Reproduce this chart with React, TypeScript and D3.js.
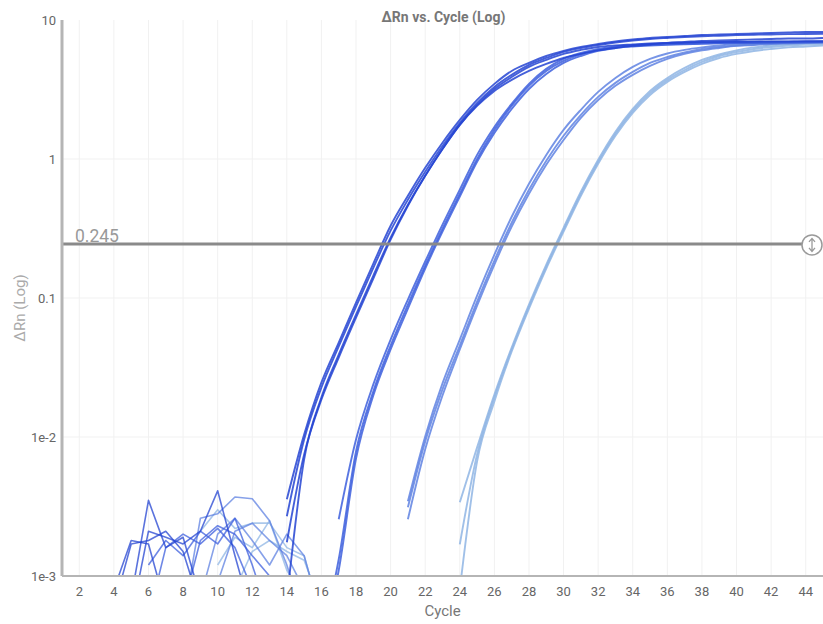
import React from 'react';
import * as d3 from 'd3';

const N = null;

const cycles = [1, 2, 3, 4, 5, 6, 7, 8, 9, 10, 11, 12, 13, 14, 15, 16, 17, 18, 19, 20, 21, 22, 23, 24, 25, 26, 27, 28, 29, 30, 31, 32, 33, 34, 35, 36, 37, 38, 39, 40, 41, 42, 43, 44, 45];
const xTicks = [2, 4, 6, 8, 10, 12, 14, 16, 18, 20, 22, 24, 26, 28, 30, 32, 34, 36, 38, 40, 42, 44];
const yTicks = [10, 1, 0.1, 0.01, 0.001];
const yTickLabels = ['10', '1', '0.1', '1e-2', '1e-3'];
const threshold = 0.245;
const thresholdLabel = '0.245';
const chartTitle = 'ΔRn vs. Cycle (Log)';
const xTitle = 'Cycle';
const yTitle = 'ΔRn (Log)';

// ΔRn per cycle (cycle 1..45), null = non-positive value
const wellA1 = [N, N, N, 0.0006, 0.0017, 0.0018, 0.0021, 0.0015, 0.0006, N, N, N, N,
  0.00356, 0.0104, 0.0247, 0.0478, 0.0927, 0.177, 0.331, 0.544, 0.865, 1.31, 1.91, 2.66, 3.47, 4.30, 4.91, 5.51, 5.99, 6.40, 6.72, 7.01, 7.24, 7.43, 7.55, 7.67, 7.80, 7.87, 7.93, 8.00, 8.07, 8.13, 8.20, 8.20];
const wellA2 = [N, N, N, N, 0.0007, 0.0035, 0.0016, 0.0019, 0.0007, N, N, N, N,
  0.00269, 0.0096, 0.0227, 0.0448, 0.0868, 0.165, 0.305, 0.509, 0.809, 1.24, 1.82, 2.53, 3.30, 4.03, 4.75, 5.33, 5.89, 6.29, 6.61, 6.89, 7.12, 7.30, 7.43, 7.55, 7.64, 7.71, 7.78, 7.83, 7.87, 7.91, 7.93, 7.96];
const wellA3 = [N, N, N, 0.0008, 0.0018, 0.0017, 0.0006, N, N, N, N, N, N,
  0.00175, 0.0075, 0.0186, 0.0373, 0.0723, 0.138, 0.263, 0.461, 0.757, 1.18, 1.76, 2.45, 3.19, 3.89, 4.60, 5.16, 5.70, 6.09, 6.40, 6.56, 6.67, 6.78, 6.84, 6.89, 6.93, 6.95, 6.97, 6.99, 7.01, 7.01, 7.03, 7.03];
const wellA4 = [N, N, N, N, 0.0005, 0.0021, 0.0019, 0.0017, 0.0021, 0.0041, 0.0014, 0.0005, N,
  0.00068, 0.0069, 0.0193, 0.0392, 0.0760, 0.145, 0.272, 0.469, 0.757, 1.18, 1.76, 2.41, 3.09, 3.71, 4.30, 4.83, 5.33, 5.70, 6.04, 6.29, 6.51, 6.67, 6.84, 6.95, 7.07, 7.12, 7.18, 7.24, 7.30, 7.36, 7.36, 7.43];

const wellB1 = [N, N, N, N, N, 0.0012, 0.0018, 0.0014, 0.0021, 0.0017, 0.0026, 0.0012, 0.0005, N, N, N,
  0.00256, 0.0096, 0.0239, 0.0502, 0.0974, 0.183, 0.337, 0.601, 1.07, 1.70, 2.49, 3.47, 4.45, 5.25, 5.79, 6.19, 6.45, 6.61, 6.72, 6.78, 6.84, 6.89, 6.93, 6.95, 6.95, 6.97, 6.99, 7.01, 7.01];
const wellB2 = [N, N, N, N, N, 0.0005, 0.0016, 0.0020, 0.0017, 0.0022, 0.0016, 0.0008, N, N, N,
  0.00035, 0.00132, 0.00788, 0.0213, 0.0455, 0.0897, 0.171, 0.315, 0.562, 1.00, 1.62, 2.41, 3.36, 4.30, 5.08, 5.65, 6.09, 6.35, 6.51, 6.61, 6.69, 6.75, 6.79, 6.83, 6.86, 6.88, 6.90, 6.93, 6.95, 6.95];
const wellB3 = [N, N, N, N, N, N, N, 0.0006, 0.0018, 0.0023, 0.0020, 0.0014, 0.0010, 0.0006, N,
  0.0003, 0.00110, 0.0070, 0.0199, 0.0426, 0.0839, 0.163, 0.300, 0.537, 0.955, 1.54, 2.29, 3.19, 4.09, 4.91, 5.51, 5.99, 6.29, 6.45, 6.56, 6.64, 6.70, 6.75, 6.79, 6.82, 6.84, 6.86, 6.88, 6.90, 6.90];

const wellC1 = [N, N, N, N, N, N, N, 0.0005, 0.0026, 0.0028, 0.0037, 0.0036, 0.0025, 0.0012, 0.0005, N, N, N, N, N,
  0.00345, 0.0101, 0.0243, 0.0502, 0.104, 0.205, 0.384, 0.664, 1.07, 1.62, 2.26, 3.04, 3.83, 4.60, 5.25, 5.74, 6.09, 6.35, 6.56, 6.69, 6.78, 6.84, 6.89, 6.95, 6.99];
const wellC2 = [N, N, N, N, N, N, N, N, 0.0007, 0.0020, 0.0026, 0.0018, 0.0012, 0.0020, 0.0014, 0.0005, N, N, N, N,
  0.00312, 0.0093, 0.0220, 0.0455, 0.0942, 0.186, 0.348, 0.601, 0.971, 1.47, 2.08, 2.80, 3.53, 4.23, 4.91, 5.42, 5.84, 6.19, 6.40, 6.56, 6.67, 6.78, 6.84, 6.89, 6.95];
const wellC3 = [N, N, N, N, N, N, N, N, N, 0.0009, 0.0021, 0.0024, 0.0018, 0.0014, 0.0008, N, N, N, N, N,
  0.00256, 0.00815, 0.0199, 0.0426, 0.0882, 0.174, 0.326, 0.562, 0.908, 1.37, 1.98, 2.66, 3.36, 4.03, 4.67, 5.25, 5.70, 6.04, 6.29, 6.51, 6.61, 6.72, 6.78, 6.84, 6.89];

const wellD1 = [N, N, N, N, N, N, N, N, 0.0021, 0.0030, 0.0022, 0.0024, 0.0024, 0.0016, 0.0014, 0.0005, N, N, N, N, N, N, N,
  0.00339, 0.00842, 0.0202, 0.0440, 0.0897, 0.174, 0.320, 0.581, 0.987, 1.57, 2.29, 3.09, 3.83, 4.52, 5.16, 5.65, 6.04, 6.35, 6.56, 6.72, 6.84, 6.89];
const wellD2 = [N, N, N, N, N, N, N, N, N, 0.0012, 0.0019, 0.0016, 0.0025, 0.0011, 0.0007, N, N, N, N, N, N, N, N,
  0.00169, 0.0075, 0.0193, 0.0426, 0.0868, 0.168, 0.310, 0.562, 0.955, 1.52, 2.22, 2.99, 3.71, 4.37, 4.99, 5.51, 5.89, 6.19, 6.40, 6.56, 6.67, 6.72];
const wellD3 = [N, N, N, N, N, N, N, N, N, N, 0.0008, 0.0015, 0.0018, 0.0015, 0.0013, 0.0006, N, N, N, N, N, N, N,
  0.00080, 0.00668, 0.0180, 0.0412, 0.0839, 0.163, 0.300, 0.544, 0.924, 1.47, 2.15, 2.89, 3.59, 4.23, 4.83, 5.33, 5.70, 5.99, 6.19, 6.35, 6.45, 6.56];

const groupD = [wellD1, wellD2, wellD3];
const groupC = [wellC1, wellC2, wellC3];
const groupB = [wellB1, wellB2, wellB3];
const groupA = [wellA1, wellA2, wellA3, wellA4];
const groups = [groupD, groupC, groupB, groupA];
const groupColors = ['#8fb5e4', '#5f82e2', '#3d5fdd', '#2444d2'];

type Pt = [number, number];

function segmentsOf(vals: (number | null)[]): Pt[][] {
  const segs: Pt[][] = [];
  let cur: Pt[] = [];
  vals.forEach((v, i) => {
    if (v == null) {
      if (cur.length) segs.push(cur);
      cur = [];
    } else cur.push([cycles[i], v]);
  });
  if (cur.length) segs.push(cur);
  return segs;
}

export default function App() {
  const W = 823;
  const H = 624;
  const left = 62;
  const right = 823;
  const top = 20;
  const bottom = 576;
  const x = d3.scaleLinear().domain([1, 45]).range([left, right]);
  const y = d3.scaleLog().domain([0.001, 10]).range([bottom, top]);
  const font = 'Roboto, "Noto Sans", Arial, sans-serif';

  const lineLinear = d3.line<Pt>().x(d => x(d[0])).y(d => y(d[1])).curve(d3.curveLinear);
  const lineSmooth = d3.line<Pt>().x(d => x(d[0])).y(d => y(d[1])).curve(d3.curveMonotoneX);

  const ty = y(threshold);
  const hx = right - 11;

  return (
    <svg width={W} height={H} style={{ position: 'absolute', left: 0, top: 0, background: '#fff' }} fontFamily={font}>
      <defs>
        <clipPath id="plotClip">
          <rect x={left} y={top - 2} width={right - left} height={bottom - top + 2} />
        </clipPath>
      </defs>
      {/* grid */}
      <g>
        {xTicks.map(t => (
          <line key={'gx' + t} x1={x(t)} x2={x(t)} y1={top} y2={bottom} stroke="#f1f1f1" strokeWidth={1} />
        ))}
        {yTicks.slice(1, 4).map(t => (
          <line key={'gy' + t} x1={left} x2={right} y1={y(t)} y2={y(t)} stroke="#f1f1f1" strokeWidth={1} />
        ))}
      </g>
      {/* curves */}
      <g clipPath="url(#plotClip)">
        {groups.map((g, gi) =>
          g.map((well, wi) =>
            segmentsOf(well).map((seg, si) => {
              const amp = d3.max(seg, d => d[1])! > 0.01;
              return (
                <path
                  key={`${gi}-${wi}-${si}`}
                  d={(amp ? lineSmooth : lineLinear)(seg) || ''}
                  fill="none"
                  stroke={groupColors[gi]}
                  strokeWidth={amp ? 1.9 : 1.6}
                  strokeOpacity={amp ? 0.85 : 0.75}
                  strokeLinejoin="round"
                />
              );
            })
          )
        )}
      </g>
      {/* threshold */}
      <line x1={left} x2={hx - 10} y1={ty} y2={ty} stroke="#8a8a8a" strokeWidth={3} />
      <text x={left + 13} y={ty - 2} fontSize={17.5} fill="#999">{thresholdLabel}</text>
      <circle cx={hx} cy={ty + 1} r={10} fill="#fff" stroke="#9a9a9a" strokeWidth={1.5} />
      <path
        d={`M${hx},${ty - 5} L${hx},${ty + 7} M${hx - 3},${ty - 2} L${hx},${ty - 5.5} L${hx + 3},${ty - 2} M${hx - 3},${ty + 4} L${hx},${ty + 7.5} L${hx + 3},${ty + 4}`}
        fill="none"
        stroke="#9a9a9a"
        strokeWidth={1.3}
      />
      {/* axes */}
      <line x1={left} x2={left} y1={top} y2={bottom} stroke="#b5b5b5" strokeWidth={3} />
      <line x1={left} x2={right} y1={bottom} y2={bottom} stroke="#b5b5b5" strokeWidth={2} />
      {yTicks.map((t, i) => (
        <text key={'yl' + t} x={left - 6} y={y(t)} dy="0.35em" textAnchor="end" fontSize={13} fill="#666">
          {yTickLabels[i]}
        </text>
      ))}
      {xTicks.map(t => (
        <text key={'xl' + t} x={x(t)} y={bottom + 20} textAnchor="middle" fontSize={13} fill="#666">
          {t}
        </text>
      ))}
      <text x={(left + right) / 2 + 1} y={top + 2} textAnchor="middle" fontSize={14} fontWeight="bold" fill="#777">
        {chartTitle}
      </text>
      <text x={(left + right) / 2} y={H - 8} textAnchor="middle" fontSize={15} fill="#777">
        {xTitle}
      </text>
      <text transform={`translate(25,${(top + bottom) / 2 + 10}) rotate(-90)`} textAnchor="middle" fontSize={15} fill="#aaa">
        {yTitle}
      </text>
    </svg>
  );
}
